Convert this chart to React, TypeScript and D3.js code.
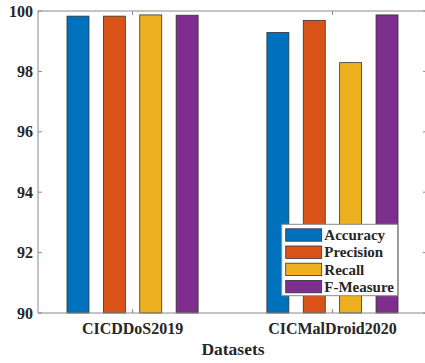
import React from "react";
import * as d3 from "d3";

const datasets = ["CICDDoS2019", "CICMalDroid2020"];
const metrics = ["Accuracy", "Precision", "Recall", "F-Measure"];
const accuracy = [99.83, 99.29];
const precision = [99.83, 99.69];
const recall = [99.87, 98.29];
const fMeasure = [99.86, 99.87];
const yTicks = [90, 92, 94, 96, 98, 100];
const colors = ["#0072BD", "#D95319", "#EDB120", "#7E2F8E"];

const series = [accuracy, precision, recall, fMeasure];

export default function App() {
  const W = 425, H = 363;
  const left = 38, top = 11, bottom = 313, right = 427;
  const x = d3.scaleLinear().domain([0.527, 2.473]).range([left, right]);
  const y = d3.scaleLinear().domain([90, 100]).range([bottom, top]);
  const inner = d3.scalePoint<string>().domain(metrics).range([-0.273, 0.273]);
  const barW = 0.11;
  const axisColor = "#8a8a8a";
  const font = "'Liberation Serif', 'Times New Roman', serif";

  const legX = 281.7, legY = 224.3, legW = 116, legH = 71.4;
  const rowH = 17.2;

  return (
    <svg width={W} height={H} style={{ position: "absolute", left: 0, top: 0, background: "#fff" }}>
      <rect x={0} y={0} width={W} height={H} fill="#fff" />
      {datasets.map((ds, i) =>
        metrics.map((m, j) => {
          const cx = x(i + 1 + (inner(m) as number));
          const x0 = cx - (x(barW) - x(0)) / 2;
          const v = series[j][i];
          return (
            <rect
              key={ds + m}
              x={x0}
              y={y(v)}
              width={x(barW) - x(0)}
              height={y(90) - y(v)}
              fill={colors[j]}
              stroke="#333"
              strokeWidth={0.8}
            />
          );
        })
      )}
      {/* axes box */}
      <line x1={left} y1={bottom} x2={right} y2={bottom} stroke={axisColor} strokeWidth={1} />
      <line x1={left} y1={top} x2={right} y2={top} stroke={axisColor} strokeWidth={1} />
      <line x1={left} y1={top} x2={left} y2={bottom} stroke={axisColor} strokeWidth={1} />
      <line x1={right} y1={top} x2={right} y2={bottom} stroke={axisColor} strokeWidth={1} />
      {yTicks.map((t) => (
        <g key={t}>
          <line x1={left} x2={left + 4} y1={y(t)} y2={y(t)} stroke={axisColor} />
          <line x1={right - 4} x2={right} y1={y(t)} y2={y(t)} stroke={axisColor} />
          <text
            x={33}
            y={y(t)}
            dy="0.35em"
            textAnchor="end"
            fontFamily={font}
            fontWeight="bold"
            fontSize={16}
            fill="#262626"
          >
            {t}
          </text>
        </g>
      ))}
      {datasets.map((ds, i) => (
        <g key={ds}>
          <line x1={x(i + 1)} x2={x(i + 1)} y1={bottom} y2={bottom - 4} stroke={axisColor} />
          <line x1={x(i + 1)} x2={x(i + 1)} y1={top} y2={top + 4} stroke={axisColor} />
          <text
            x={x(i + 1)}
            y={334}
            textAnchor="middle"
            fontFamily={font}
            fontWeight="bold"
            fontSize={16}
            fill="#262626"
          >
            {ds}
          </text>
        </g>
      ))}
      <text x={233} y={355} textAnchor="middle" fontFamily={font} fontWeight="bold" fontSize={17.5} fill="#262626">
        Datasets
      </text>
      {/* legend */}
      <rect x={legX} y={legY} width={legW} height={legH} fill="#fff" stroke={axisColor} strokeWidth={1} />
      {metrics.map((m, j) => {
        const cy = legY + 10.7 + j * rowH;
        return (
          <g key={m}>
            <rect x={legX + 4} y={cy - 6.2} width={36} height={12.4} fill={colors[j]} stroke="#333" strokeWidth={0.8} />
            <text
              x={legX + 42.6}
              y={cy}
              dy="0.35em"
              fontFamily={font}
              fontWeight="bold"
              fontSize={15}
              fill="#262626"
            >
              {m}
            </text>
          </g>
        );
      })}
    </svg>
  );
}
